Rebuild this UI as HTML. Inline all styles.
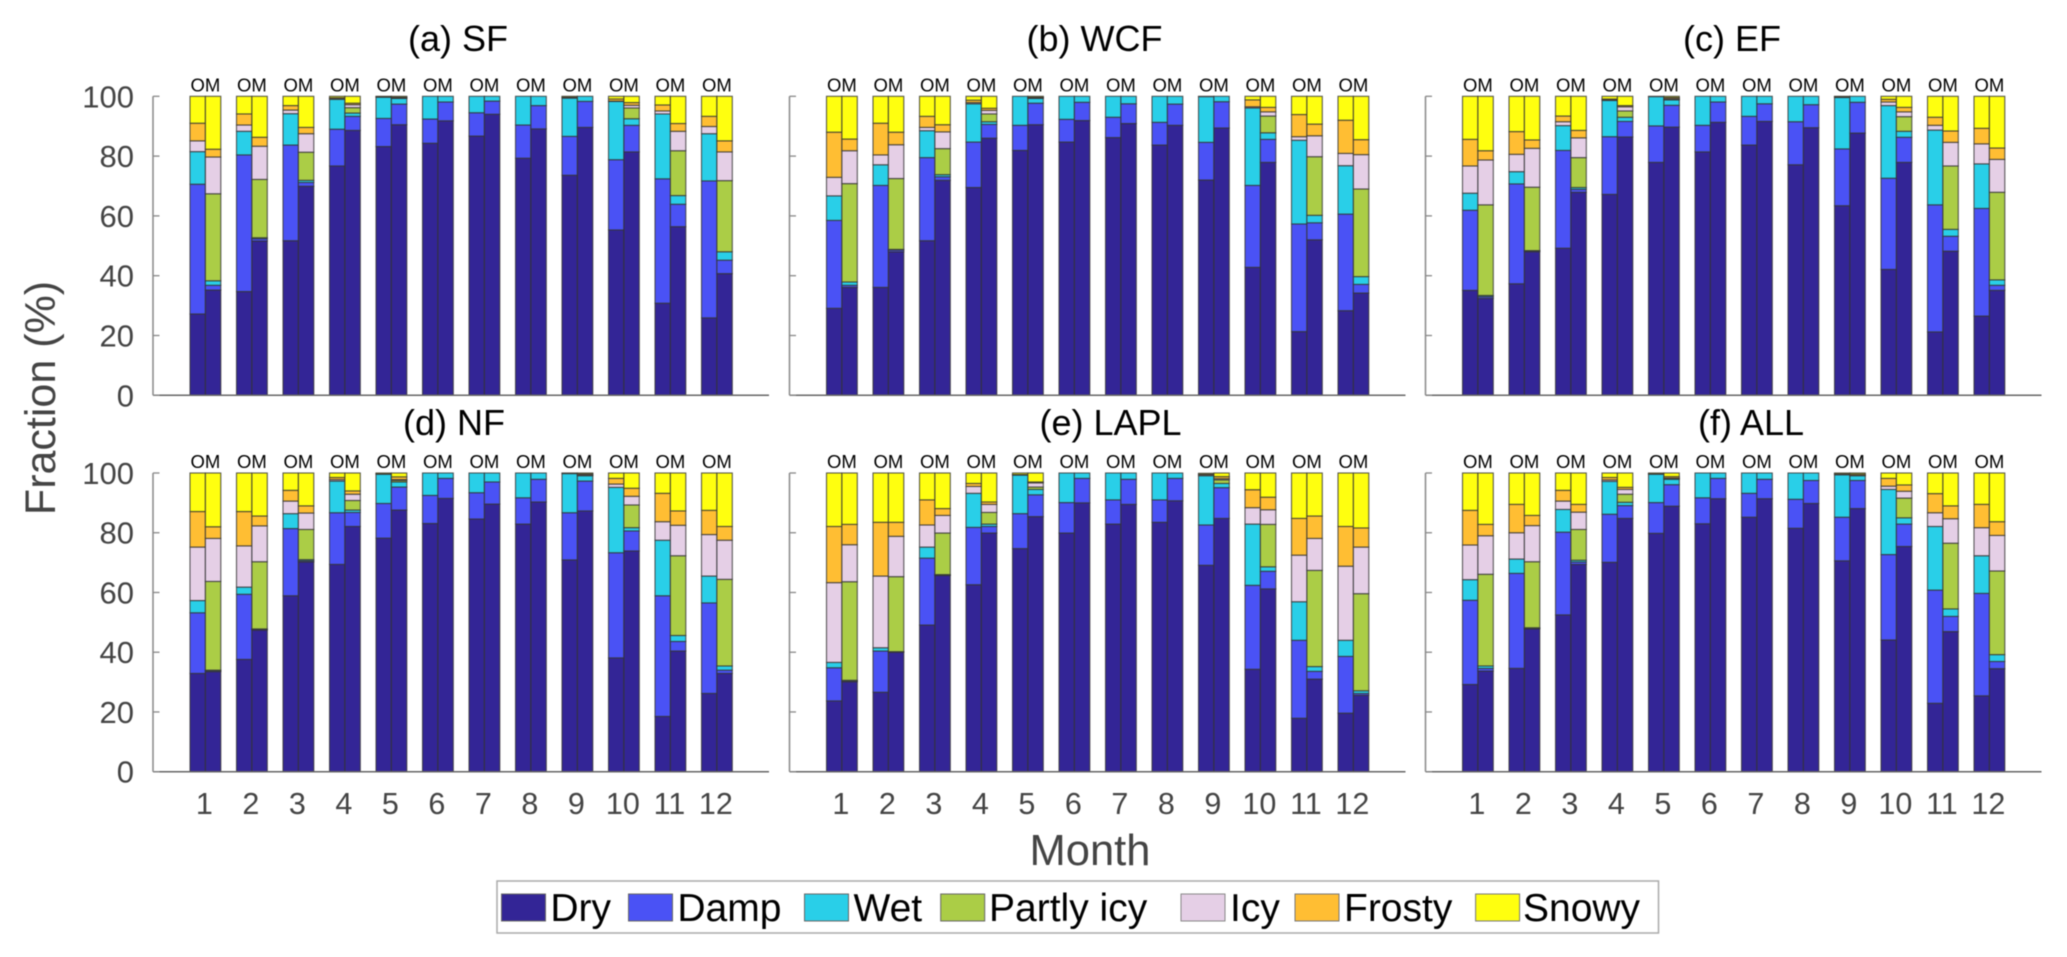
<!DOCTYPE html>
<html lang="en">
<head>
<meta charset="utf-8">
<title>Monthly road surface fractions</title>
<style>
html,body{margin:0;padding:0;background:#fff;}
svg{display:block;font-family:"Liberation Sans",Arial,sans-serif;filter:blur(0.45px);}
</style>
</head>
<body>
<svg id="chart" xmlns="http://www.w3.org/2000/svg" width="2067" height="957" viewBox="0 0 2067 957">
  <rect x="0" y="0" width="2067" height="957" fill="#fff"/>
  <text transform="translate(55 398) rotate(-90)" text-anchor="middle" font-size="43" fill="#444">Fraction (%)</text>
  <text x="1090" y="865" text-anchor="middle" font-size="43.5" fill="#444">Month</text>
  <g>
    <rect x="497" y="881" width="1161.5" height="52" fill="#fff" stroke="#aaa" stroke-width="1.5"/>
    <g><rect x="501.5" y="894" width="44" height="27" fill="#332596" stroke="#666"/><text x="550.4" y="921" font-size="39" fill="#000">Dry</text></g>
    <g><rect x="628.5" y="894" width="44" height="27" fill="#4A52F5" stroke="#666"/><text x="677.4" y="921" font-size="39" fill="#000">Damp</text></g>
    <g><rect x="804.5" y="894" width="44" height="27" fill="#29CFE8" stroke="#666"/><text x="853.5" y="921" font-size="39" fill="#000">Wet</text></g>
    <g><rect x="940.7" y="894" width="44" height="27" fill="#ABCD46" stroke="#666"/><text x="989" y="921" font-size="39" fill="#000">Partly icy</text></g>
    <g><rect x="1181" y="894" width="44" height="27" fill="#E5CFE6" stroke="#888"/><text x="1230" y="921" font-size="39" fill="#000">Icy</text></g>
    <g><rect x="1295" y="894" width="44" height="27" fill="#FFBE33" stroke="#777"/><text x="1344" y="921" font-size="39" fill="#000">Frosty</text></g>
    <g><rect x="1475.6" y="894" width="44" height="27" fill="#FFFF0F" stroke="#777"/><text x="1523" y="921" font-size="39" fill="#000">Snowy</text></g>
  </g>
</svg>
<script>
// Categories and tick labels
const monthLabels = ["1","2","3","4","5","6","7","8","9","10","11","12"];
const yTickValues = [0,20,40,60,80,100];
const classNames = ["dry","damp","wet","partly-icy","icy","frosty","snowy"];
const panelTitles = ["(a) SF","(b) WCF","(c) EF","(d) NF","(e) LAPL","(f) ALL"];
const sourceLabels = ["O","M"];

// Each row is one month: Dry, Damp, Wet, Partly icy, Icy, Frosty, Snowy (%)
const sfO = [[27.2,43.4,10.9,0,3.6,5.9,9],[34.7,45.7,7.9,0,2.1,3.7,5.9],[51.7,32,10.5,0,1.2,1.5,3.1],[76.7,12.3,10,0,.2,.3,.5],[83.2,9.4,7.1,0,.1,.1,.1],[84.3,8.1,7.6,0,0,0,0],[86.7,7.8,5.5,0,0,0,0],[79.3,11.1,9.6,0,0,0,0],[73.6,13,12.8,0,.2,.2,.2],[55.3,23.5,19.5,0,.1,.7,.9],[30.8,41.6,21.7,0,1,2,2.9],[25.9,45.8,15.8,0,2.4,3.4,6.7]];
const sfM = [[35.2,1.6,1.5,29.1,12.3,2.6,17.7],[51.6,.8,.3,19.5,11.1,3,13.7],[69.9,1.3,.7,9.4,6.2,2.1,10.4],[88.6,4.7,1.1,1.8,1,.5,2.3],[90.5,6.9,1.9,.1,.2,.2,.2],[91.8,6.3,1.9,0,0,0,0],[94,4.4,1.6,0,0,0,0],[89.1,7.8,3.1,0,0,0,0],[89.6,8.7,1.7,0,0,0,0],[81.4,8.9,2.2,3.6,.9,.9,2.1],[56.4,7.5,2.9,15,6.5,2.6,9.1],[40.7,4.5,2.8,23.8,9.6,3.7,14.9]];
const wcfO = [[29.1,29.4,8.2,0,6.2,15.1,12],[36.1,34.1,6.9,0,3.3,10.6,9],[51.7,27.8,9,0,1.1,3.7,6.7],[69.5,15.2,12.8,0,.4,.8,1.3],[81.9,8.4,9.7,0,0,0,0],[84.7,7.6,7.7,0,0,0,0],[86.2,6.8,7,0,0,0,0],[83.7,7.6,8.7,0,0,0,0],[72,12.6,15.3,0,.1,0,0],[42.8,27.4,25.9,0,.4,2.3,1.2],[21.3,36,28,0,1.2,7.4,6.1],[28.3,32.3,16.2,0,4.1,11.1,8]];
const wcfM = [[36.1,.7,1.1,32.9,11,3.9,14.3],[48,.6,.2,23.7,11.3,4.2,12],[71.9,1.2,.7,8.7,5.6,2.4,9.5],[86,4.6,.9,2.6,1.2,.7,4],[90.5,7.2,1.6,.1,.2,.2,.2],[91.9,6.1,2,0,0,0,0],[90.9,6.6,2.5,0,0,0,0],[90.3,7.1,2.6,0,0,0,0],[89.4,8.8,1.8,0,0,0,0],[77.9,7.7,2.2,5.6,1.4,1.5,3.7],[52,5.7,2.5,19.6,7,3.9,9.3],[34.2,2.9,2.6,29.3,11.5,5,14.5]];
const efO = [[35.1,26.8,5.7,0,9.1,8.9,14.4],[37.3,33.4,4.1,0,5.8,7.6,11.8],[49.2,32.7,8.3,0,1.3,1.9,6.6],[67.2,19.3,12.1,0,.2,.3,.9],[77.9,12.2,9.8,0,.1,0,0],[81.4,8.9,9.7,0,0,0,0],[83.7,9.6,6.7,0,0,0,0],[77.1,14.4,8.5,0,0,0,0],[63.4,19,17.2,0,.2,.1,.1],[42.1,30.5,24.3,0,1.2,.9,1],[21.2,42.5,25,0,1.6,2.7,7],[26.5,36,14.9,0,6.7,5.2,10.7]];
const efM = [[32.4,.6,.4,30.3,15,3.1,18.2],[48,.3,.1,21.2,13,2.8,14.6],[67.9,1,.6,10,6.6,2.5,11.4],[86.4,5.2,1.4,2.1,1.4,.4,3.1],[89.7,7.3,1.8,.1,.3,.4,.4],[91.3,6.8,1.9,0,0,0,0],[91.6,5.9,2.5,0,0,0,0],[89.5,7.7,2.8,0,0,0,0],[87.7,10.3,2,0,0,0,0],[77.9,8.4,2,4.9,1.6,1.5,3.7],[48.2,5,2.3,21.2,7.9,3.8,11.6],[35.1,1.7,1.8,29.3,11,3.8,17.3]];
const nfO = [[32.9,20.3,4.1,0,17.9,11.9,12.9],[37.6,21.8,2.4,0,13.8,11.5,12.9],[58.9,22.5,5,0,4.2,3.6,5.8],[69.4,17.3,10.6,0,.5,.7,1.5],[78.2,11.6,9.8,0,.1,.1,.2],[83.1,9.4,7.5,0,0,0,0],[84.6,8.8,6.6,0,0,0,0],[82.9,8.8,8.3,0,0,0,0],[70.9,15.8,13.1,0,.1,.1,0],[38.1,35.2,21.9,0,1.1,1.9,1.8],[18.5,40.4,18.6,0,6.2,9.5,6.8],[26.2,30.3,9,0,13.9,8.1,12.5]];
const nfM = [[33.5,.3,.2,29.7,14.4,3.9,18],[47.4,.3,.1,22.5,12,3.3,14.4],[70.2,.4,.4,10.1,5.5,2.4,11],[82.1,4.7,.8,3.2,2.1,1.1,6],[87.6,7.7,1.7,.5,.3,.9,1.3],[91.5,6.7,1.8,0,0,0,0],[89.6,7.4,3,0,0,0,0],[90.3,7.6,2.1,0,0,0,0],[87.3,10,1.8,.1,.3,.3,.2],[73.9,6.7,1.1,7.6,2.9,2.7,5.1],[40.4,3.2,2,26.7,10.2,4.8,12.7],[32.9,1.1,1.4,29,13.1,4.6,17.9]];
const laplO = [[23.7,11.1,1.8,0,26.7,18.8,17.9],[26.6,13.8,1.1,0,24,18,16.5],[49.1,22.4,3.7,0,7.4,8.4,9],[62.6,19.2,11.4,0,2.3,1,3.5],[74.7,11.7,12.9,0,.1,.1,.5],[79.9,10.2,9.9,0,0,0,0],[82.9,8.1,9,0,0,0,0],[83.5,7.5,9,0,0,0,0],[69.1,13.5,16.5,0,.3,.3,.2],[34.3,28.1,20.5,0,5.5,6,5.6],[17.9,26.1,12.9,0,15.6,12.3,15.2],[19.6,19,5.4,0,24.8,13.3,17.9]];
const laplM = [[30.1,.3,.2,33,12.4,6.8,17.2],[40,.1,.1,25.1,13.5,4.7,16.5],[65.7,.1,.2,13.9,5.9,2.3,11.9],[79.9,2.2,.8,3.9,2.7,.8,9.7],[85.4,7.3,1.8,.8,1.4,.3,3],[90,8.2,1.8,0,0,0,0],[89.5,8.4,2.1,0,0,0,0],[90.7,7.5,1.8,0,0,0,0],[84.8,10.3,1.4,1.2,.4,.7,1.2],[61.2,5.9,1.5,14.2,4.9,4.2,8.1],[31,2.6,1.6,32.2,10.7,7.5,14.4],[25.6,.6,.9,32.5,15.6,6.4,18.4]];
const allO = [[29.2,28.2,6.9,0,11.6,11.6,12.5],[34.6,31.8,4.8,0,8.8,9.5,10.5],[52.5,27.7,7.6,0,2.8,3.6,5.8],[70.1,16.1,11,0,.5,.8,1.5],[79.8,10.3,9.5,0,.1,.1,.2],[83,8.7,8.3,0,0,0,0],[85.2,8,6.8,0,0,0,0],[81.5,9.7,8.8,0,0,0,0],[70.6,14.6,14.2,0,.2,.2,.2],[44.1,28.6,21.8,0,1.1,2.6,1.8],[22.9,37.9,21.3,0,4.6,6.4,6.9],[25.4,34.3,12.6,0,9.4,7.8,10.5]];
const allM = [[33.7,.9,.8,30.7,12.9,3.8,17.2],[47.8,.2,.2,22.1,12.1,3.4,14.2],[69.4,.8,.6,10.3,5.8,2.6,10.5],[84.8,4.3,1.1,2.7,1.6,.7,4.8],[88.9,7.2,1.8,.2,.2,.5,1.2],[91.4,6.8,1.8,0,0,0,0],[91.4,6.5,2.1,0,0,0,0],[89.8,7.7,2.5,0,0,0,0],[88.1,9.4,1.6,0,.1,.4,.4],[75.4,7.5,2.1,6.6,2.3,2.1,4],[46.9,5.1,2.5,22,8.2,4.3,11],[34.5,2.4,2.3,28,11.9,4.6,16.3]];

const observedByPanel = [sfO, wcfO, efO, nfO, laplO, allO];
const modelledByPanel = [sfM, wcfM, efM, nfM, laplM, allM];

// Layout and style, kept apart from the data
const classColors = ["#332596","#4A52F5","#29CFE8","#ABCD46","#E5CFE6","#FFBE33","#FFFF0F"];
const SVG_NS = "http://www.w3.org/2000/svg";
const svg = document.getElementById("chart");
const AXIS_WIDTH = 616;
const MONTH_STEP = 46.5;
const FIRST_BAR_OFFSET = 37;
const BAR_WIDTH = 15.4;

function panelLeft(panelIndex) {
  return [153, 789.5, 1425.5][panelIndex % 3];
}
function titleCenter(panelIndex) {
  return [458, 1094.5, 1732, 454, 1110.5, 1751][panelIndex];
}
function rowBottom(panelIndex) {
  return panelIndex < 3 ? 395.3 : 771.7;
}
function rowHeight(panelIndex) {
  return panelIndex < 3 ? 299 : 298.7;
}
function yScale(panelIndex, value) {
  return rowBottom(panelIndex) - value / 100 * rowHeight(panelIndex);
}
function xScale(panelIndex, monthIndex, sourceIndex) {
  return panelLeft(panelIndex) + FIRST_BAR_OFFSET + monthIndex * MONTH_STEP + sourceIndex * BAR_WIDTH;
}
function make(tag, attrs, parent, text) {
  const node = document.createElementNS(SVG_NS, tag);
  for (const key in attrs) node.setAttribute(key, attrs[key]);
  if (text !== undefined) node.textContent = text;
  parent.appendChild(node);
  return node;
}
function drawStack(group, panelIndex, monthIndex, sourceIndex, values) {
  let base = 0;
  values.forEach(function (value, classIndex) {
    if (value > 0) {
      const x = xScale(panelIndex, monthIndex, sourceIndex);
      const yTop = yScale(panelIndex, base + value);
      const yBase = yScale(panelIndex, base);
      const seg = make("rect", {
        x: x, y: yTop, width: BAR_WIDTH, height: yBase - yTop,
        fill: classColors[classIndex], stroke: "#333",
        "stroke-width": 1.1, "stroke-opacity": 0.8
      }, group);
      
      
    }
    base += value;
  });
}
function drawPanel(panelIndex) {
  const left = panelLeft(panelIndex);
  const bottom = rowBottom(panelIndex);
  const panel = make("g", {}, svg);
  
  

  const title = make("text", {
    x: titleCenter(panelIndex), y: panelIndex < 3 ? 51 : 435, "text-anchor": "middle",
    "font-size": 36, fill: "#000"
  }, panel, panelTitles[panelIndex]);
  
  

  monthLabels.forEach(function (label, monthIndex) {
    drawStack(panel, panelIndex, monthIndex, 0, observedByPanel[panelIndex][monthIndex]);
    drawStack(panel, panelIndex, monthIndex, 1, modelledByPanel[panelIndex][monthIndex]);
    const pairCenter = xScale(panelIndex, monthIndex, 1);
    const om = make("text", {
      x: pairCenter, y: yScale(panelIndex, 100) - 5, "text-anchor": "middle",
      "font-size": 18.5, fill: "#000"
    }, panel, sourceLabels.join(""));
    
    
    if (panelIndex >= 3) {
      const tick = make("text", {
        x: pairCenter - 1, y: 814, "text-anchor": "middle",
        "font-size": 30.5, fill: "#444"
      }, panel, label);
      
      
    }
  });

  const yAxis = make("line", {
    x1: left, x2: left, y1: yScale(panelIndex, 100), y2: bottom,
    stroke: "#888", "stroke-width": 1.5
  }, panel);
  
  
  const xAxis = make("line", {
    x1: left, x2: left + AXIS_WIDTH, y1: bottom, y2: bottom,
    stroke: "#666", "stroke-width": 1.5
  }, panel);
  
  

  yTickValues.forEach(function (value) {
    const y = yScale(panelIndex, value);
    const tickMark = make("line", {
      x1: left, x2: left + 6.5, y1: y, y2: y, stroke: "#888", "stroke-width": 1.3
    }, panel);
    
    
    if (panelIndex % 3 === 0) {
      const label = make("text", {
        x: 134, y: y + 11, "text-anchor": "end", "font-size": 31, fill: "#444"
      }, panel, String(value));
      
      
    }
  });
}
panelTitles.forEach(function (title, panelIndex) {
  drawPanel(panelIndex);
});
</script>
</body>
</html>
